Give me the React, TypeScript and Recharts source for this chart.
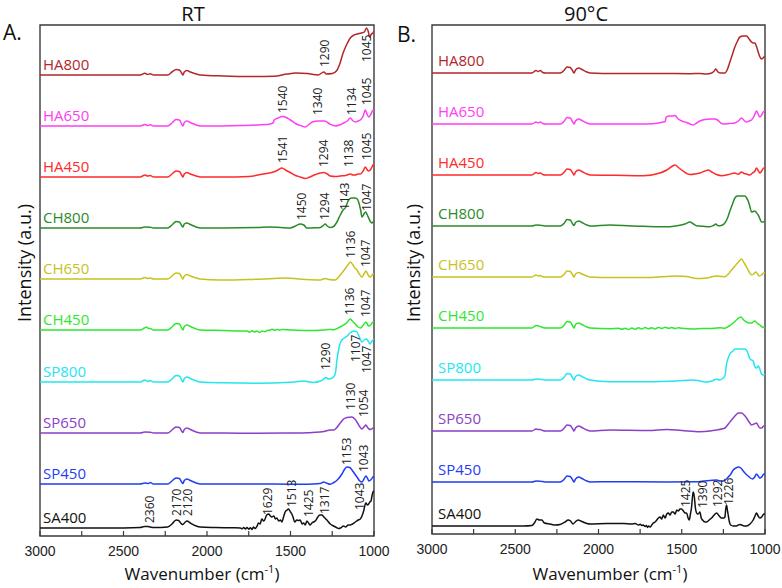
import { ComposedChart, Line, XAxis, YAxis, ReferenceArea, ReferenceLine, ReferenceDot } from 'recharts';

// [wavenumber, intensity above the spectrum's own baseline]
type Pt = [number, number];
// [wavenumber, stacked height of the label foot, text]
type Peak = [number, number, string];

const sampleNames = ['HA800', 'HA650', 'HA450', 'CH800', 'CH650', 'CH450', 'SP800', 'SP650', 'SP450', 'SA400'];
const sampleColors = ['#b3262b', '#ff3df5', '#ff2a2a', '#2a8a2a', '#c8c21e', '#2ee82e', '#22e6f0', '#8c3fc8', '#1f3df5', '#111111'];
// vertical offset of each trace in the stack
const stackOffsets = [461, 410, 359, 308, 257, 206, 154, 103, 52, 8];

const xTicks = [3000, 2500, 2000, 1500, 1000];
const minorTicks = [3000, 2750, 2500, 2250, 2000, 1750, 1500, 1250, 1000];

// ---------- RT ----------
const rtHA800: Pt[] = [[3000,0],[2600,0],[2400,0],[2372,1.8],[2355,0.5],[2340,1.2],[2320,0],[2235,0],[2210,3],[2185,5.5],[2165,5],[2152,2],[2144,0],[2136,3],[2120,4.5],[2100,3],[2065,1],[2040,0],[1900,-1],[1750,-1.5],[1600,-1.2],[1520,1],[1470,2],[1400,1.5],[1335,0],[1300,3],[1285,1],[1250,1.5],[1225,4],[1205,11],[1185,22],[1165,30],[1142,37],[1120,40],[1100,41],[1075,42],[1058,43],[1045,47],[1035,44],[1026,38],[1015,41],[1006,42],[1000,44]];
const rtHA650: Pt[] = [[3000,0],[2600,0],[2400,0],[2372,1.5],[2355,0.5],[2340,1.2],[2320,0],[2235,0],[2210,3],[2185,6.5],[2165,6],[2152,2],[2144,0],[2136,3.5],[2120,5],[2100,3.5],[2065,1],[2040,0],[1800,0.5],[1640,1.5],[1605,3],[1597,6],[1575,8],[1545,9.5],[1520,8],[1500,6],[1465,2],[1432,0],[1412,-1],[1390,1.5],[1370,4],[1330,5],[1295,5],[1265,2],[1232,0],[1200,1.5],[1182,3],[1160,5],[1142,8],[1125,5],[1112,4],[1095,5],[1082,6],[1065,10],[1052,16],[1042,12],[1032,9],[1018,12],[1006,16],[1000,14]];
const rtHA450: Pt[] = [[3000,0],[2600,0],[2400,0],[2372,2],[2355,1],[2340,1.5],[2320,0],[2235,0],[2210,3],[2185,6],[2165,5.5],[2152,2],[2144,0],[2136,3],[2120,4.5],[2100,3],[2065,1],[2040,0],[1900,0],[1750,0.5],[1662,3],[1602,5],[1575,7],[1552,9],[1525,6.5],[1502,4.5],[1470,1.5],[1442,0],[1410,-1.5],[1392,-0.5],[1350,2.5],[1322,4],[1302,4.5],[1280,3],[1262,1],[1230,0.5],[1202,1],[1170,1.5],[1142,3],[1125,2],[1112,2],[1095,3],[1082,3],[1065,6],[1052,10],[1040,7],[1032,6],[1018,8],[1006,12],[1000,13]];
const rtCH800: Pt[] = [[3000,0],[2600,0],[2400,0],[2372,1],[2340,0.8],[2320,0],[2235,0],[2210,3],[2185,6.5],[2165,6],[2152,2.5],[2144,1],[2136,4],[2120,5],[2100,3.5],[2065,1],[2040,0],[1900,0],[1700,0.5],[1622,1],[1560,0.5],[1502,0],[1470,2],[1442,4],[1420,3],[1402,0],[1350,0.2],[1322,0.5],[1300,3],[1292,4],[1280,2],[1262,0.5],[1242,1.5],[1222,6],[1202,13],[1185,18],[1172,20],[1160,25],[1152,28],[1135,30],[1115,30],[1100,29],[1092,26],[1080,18],[1072,11],[1060,14],[1050,16],[1040,13],[1032,10],[1020,6],[1012,5],[1006,6],[1000,7]];
const rtCH650: Pt[] = [[3000,0],[2600,0],[2400,0],[2372,1.5],[2355,0.5],[2340,1],[2320,0],[2235,0],[2210,3],[2185,6],[2165,5.5],[2152,2],[2144,0],[2136,3],[2120,4.5],[2100,3],[2065,1],[2040,0],[1922,-1],[1750,-0.5],[1600,0.5],[1522,1],[1450,0],[1322,-1],[1292,0.5],[1270,-0.5],[1232,-1],[1212,2],[1192,6],[1170,11],[1152,15],[1142,17],[1130,15],[1115,11],[1102,9],[1088,5],[1072,2],[1060,5],[1048,8],[1038,5],[1026,2],[1015,3],[1006,5],[1000,5]];
const rtCH450: Pt[] = [[3000,0],[2600,0],[2400,0],[2375,2],[2362,3],[2350,1.5],[2340,1.5],[2320,0],[2235,0],[2210,3],[2185,6.5],[2165,6],[2152,2],[2144,0],[2136,3.5],[2120,5],[2100,3.5],[2065,1],[2040,0],[1900,-0.5],[1800,-1],[1760,-1],[1745,-2.2],[1730,-0.8],[1715,-2],[1700,-1],[1685,-2.4],[1670,-1],[1655,-1.8],[1640,-0.5],[1625,-0.2],[1610,0.8],[1595,-0.3],[1580,0.6],[1565,-0.2],[1550,0.4],[1500,0],[1400,-0.5],[1300,0],[1270,0.5],[1242,0.3],[1215,2],[1192,4],[1165,7],[1150,10],[1142,11],[1130,9],[1112,6],[1095,3],[1082,2],[1068,4],[1048,8],[1040,6],[1032,4],[1020,5],[1006,8],[1000,8]];
const rtSP800: Pt[] = [[3000,0],[2600,0],[2400,0],[2372,2],[2355,0.5],[2340,1.5],[2320,0],[2235,0],[2210,3],[2185,6.5],[2165,6],[2152,2],[2144,0],[2136,3.5],[2120,5],[2100,3.5],[2065,1],[2040,0],[1900,-0.8],[1700,-1.2],[1500,-0.3],[1422,1],[1362,-0.5],[1322,1],[1300,3],[1292,4.5],[1270,3],[1242,5],[1230,10],[1222,22],[1212,32],[1200,40],[1186,43],[1160,46],[1144,49],[1120,51],[1102,50],[1090,46],[1072,40],[1060,42],[1045,43],[1035,41],[1024,38],[1012,41],[1000,43]];
const rtSP650: Pt[] = [[3000,0],[2600,0],[2400,0],[2372,1],[2340,0.8],[2320,0],[2235,0],[2210,3],[2185,6],[2165,5.5],[2152,2],[2144,0.5],[2136,3.5],[2120,5],[2100,3.5],[2065,1],[2040,0],[1900,0],[1700,-0.3],[1500,0],[1400,0.3],[1322,1],[1300,1.5],[1262,3],[1240,3],[1225,5],[1202,10],[1182,14],[1162,15.5],[1132,16],[1115,14],[1102,11],[1088,7],[1072,4],[1060,6],[1048,8],[1040,6],[1030,4],[1020,3.5],[1006,5],[1000,6]];
const rtSP450: Pt[] = [[3000,0],[2600,0],[2400,0],[2372,1],[2350,0.5],[2340,1.5],[2320,0],[2235,0],[2210,3],[2185,6],[2165,5.5],[2152,2],[2144,0.5],[2136,3.5],[2120,5],[2100,3.5],[2065,1],[2040,0],[1900,0],[1600,0],[1400,-0.3],[1322,0.5],[1302,2],[1285,1],[1262,-0.3],[1240,1.5],[1220,4],[1192,10],[1175,15],[1162,17],[1145,16.5],[1132,14],[1115,10],[1102,7],[1085,3],[1072,2],[1060,5],[1048,8],[1040,6],[1030,3],[1020,4],[1006,7],[1000,8]];
const rtSA400: Pt[] = [[3000,0],[2600,0],[2400,0.5],[2375,1.5],[2355,1.5],[2340,1],[2320,0.5],[2235,1],[2210,4],[2185,8],[2170,7.5],[2152,4],[2145,3.5],[2130,6],[2120,7],[2100,5],[2065,2],[2040,1],[1950,0.5],[1850,0.2],[1800,0],[1790,-0.8],[1780,0.6],[1770,-1],[1760,0.4],[1750,-1.2],[1740,0.3],[1730,-1.5],[1722,1],[1712,-0.5],[1700,2],[1692,5],[1682,4],[1672,9],[1660,7],[1642,13],[1630,14],[1620,12],[1612,11],[1600,12],[1590,9],[1582,10],[1570,7],[1560,8],[1552,6],[1540,12],[1532,16],[1520,18],[1512,19],[1500,16],[1492,14],[1485,11],[1475,6],[1462,8],[1452,7.5],[1442,8],[1430,4],[1422,5],[1412,3],[1402,7],[1392,5],[1382,3],[1372,5],[1362,6],[1352,7],[1340,10],[1325,13],[1312,13],[1300,11],[1282,8],[1262,4],[1242,2],[1225,0.5],[1212,-0.5],[1200,0],[1182,2],[1170,1],[1155,3],[1142,3],[1130,4],[1112,6],[1095,8],[1082,9],[1072,12],[1062,17],[1052,24],[1048,25],[1040,23],[1032,24],[1025,26],[1018,27],[1012,32],[1006,36],[1000,37]];

// ---------- 90°C ----------
const hotHA800: Pt[] = [[3000,0],[2600,0],[2400,0],[2375,2.5],[2362,1.5],[2350,2.5],[2335,0.5],[2320,0],[2230,0],[2205,3],[2189,6],[2170,5.5],[2155,2],[2147,0],[2138,3],[2118,5],[2100,3.5],[2070,1],[2051,0],[1900,-0.5],[1631,-0.5],[1450,-0.7],[1391,-0.5],[1351,-1],[1320,0],[1305,2],[1295,4],[1285,1.5],[1270,0],[1241,0],[1225,4],[1211,11],[1195,19],[1181,26],[1165,32],[1151,36],[1131,37],[1111,37],[1095,34],[1081,31],[1070,30],[1061,30],[1050,26],[1041,21],[1030,16],[1021,14],[1012,15],[1007,16],[1000,16]];
const hotHA650: Pt[] = [[3000,0],[2600,0],[2400,0],[2375,2],[2362,1],[2350,2],[2335,0.5],[2320,0],[2230,0],[2205,3],[2189,6.5],[2170,6],[2155,2],[2147,0],[2138,3],[2118,5],[2100,3.5],[2070,1],[2051,0],[1900,0],[1711,0],[1640,1],[1611,2],[1600,2.5],[1593,7],[1575,8],[1555,8],[1541,8.5],[1521,5],[1500,3],[1471,1.5],[1450,0],[1431,-1],[1410,1],[1391,3],[1360,4.5],[1331,5],[1300,5],[1285,4],[1265,1],[1251,0],[1215,0.5],[1181,1],[1160,3],[1141,6],[1125,3.5],[1111,2],[1095,3],[1081,4],[1065,8],[1051,13],[1041,10],[1031,7],[1020,9],[1011,12],[1000,13]];
const hotHA450: Pt[] = [[3000,0],[2600,0],[2400,0],[2375,2.5],[2362,1.5],[2350,2],[2335,0.5],[2320,0],[2230,0],[2205,3],[2189,6],[2170,5.5],[2155,2],[2147,0],[2138,3],[2118,5],[2100,3.5],[2070,1],[2051,0],[1900,-0.3],[1731,-0.7],[1631,2],[1590,5],[1560,8.5],[1541,10],[1520,7.5],[1501,5],[1470,1.5],[1451,0.5],[1420,1],[1391,2],[1360,4],[1341,5],[1320,3],[1291,0.5],[1261,-0.7],[1220,0.5],[1181,2],[1161,0.8],[1141,3],[1125,1.5],[1111,1],[1091,0],[1075,2],[1060,4],[1051,7],[1041,4.5],[1031,2],[1020,4],[1007,7],[1000,7]];
const hotCH800: Pt[] = [[3000,0],[2600,0],[2400,0],[2375,1],[2350,0.8],[2320,0],[2230,0],[2205,3],[2189,6.5],[2170,6],[2155,2],[2147,0.5],[2138,3.5],[2118,5],[2100,3.5],[2070,1],[2051,0],[1931,1],[1800,0],[1731,-0.3],[1620,-0.7],[1571,-0.7],[1511,0.7],[1480,2],[1451,4],[1430,2],[1411,0.3],[1370,-0.3],[1331,-0.7],[1310,0.5],[1295,2],[1285,0.5],[1271,0.3],[1255,1],[1241,3],[1225,8],[1211,15],[1195,22],[1181,28],[1165,30],[1151,30],[1135,30],[1121,30],[1110,28],[1101,25],[1090,19],[1081,14],[1070,14.5],[1061,15],[1050,13],[1041,11],[1030,7],[1021,4],[1012,4],[1000,5]];
const hotCH650: Pt[] = [[3000,0],[2600,0],[2400,0],[2375,2],[2362,1],[2350,1.5],[2335,0.3],[2320,0],[2230,0],[2205,3],[2189,6],[2170,5.5],[2155,2],[2147,0],[2138,3],[2118,4.5],[2100,3],[2070,1],[2051,0],[1931,-0.5],[1700,-0.5],[1531,1],[1470,0.5],[1411,-1.5],[1350,-1],[1291,1],[1260,0.5],[1241,0.3],[1220,3],[1201,7],[1180,11],[1160,15],[1141,18],[1125,14],[1111,10],[1095,5],[1081,2],[1068,3],[1055,5],[1045,3],[1035,1],[1020,2],[1007,4],[1000,4]];
const hotCH450: Pt[] = [[3000,0],[2600,0],[2400,0],[2375,2.5],[2362,2],[2350,1.5],[2335,0.5],[2320,0],[2230,0],[2205,3],[2189,6.5],[2170,6],[2155,2],[2147,0],[2138,3.5],[2118,5],[2100,3.5],[2070,1],[2051,0],[1931,-0.8],[1880,-0.3],[1860,-1.3],[1840,-0.2],[1820,-1.5],[1800,0],[1780,-1.2],[1760,0.2],[1740,-1],[1720,0.5],[1700,-0.8],[1680,0.3],[1660,-1],[1640,0.6],[1620,-0.5],[1600,0.8],[1580,-0.3],[1560,0.4],[1540,-0.5],[1520,0.2],[1500,-0.3],[1431,-0.9],[1380,-0.5],[1340,-0.6],[1271,0.3],[1241,-0.3],[1215,2],[1191,5],[1165,9],[1145,11],[1128,8],[1111,6],[1095,5],[1081,5],[1061,7],[1045,4.5],[1031,3],[1015,1],[1000,0]];
const hotSP800: Pt[] = [[3000,0],[2600,0],[2400,0],[2375,1],[2350,0.8],[2320,0],[2230,0],[2205,3],[2189,6.5],[2170,6],[2155,2],[2147,0],[2138,3.5],[2118,5],[2100,3.5],[2070,1],[2051,0],[1931,-1.7],[1700,-1.8],[1531,-1],[1431,0],[1390,-1],[1351,-2],[1320,-1],[1300,0.5],[1291,1],[1275,0],[1255,1.5],[1241,4],[1231,16],[1221,22],[1211,26],[1192,29],[1180,31],[1160,31],[1140,31],[1120,31],[1105,28],[1090,21],[1071,19],[1060,13],[1051,12],[1040,14],[1031,11],[1021,6],[1011,5],[1000,6]];
const hotSP650: Pt[] = [[3000,0],[2600,0],[2400,0],[2375,2],[2362,1.5],[2350,1.5],[2335,0.5],[2320,0],[2230,0],[2205,3],[2189,6],[2170,5.5],[2155,2],[2147,0],[2138,3],[2118,5],[2100,3.5],[2070,1],[2051,0],[1931,1],[1700,0.5],[1591,1.5],[1500,0.5],[1391,-0.7],[1330,0],[1291,1],[1260,2],[1241,3],[1220,7],[1201,11],[1191,13],[1175,16],[1161,18],[1141,18],[1125,16],[1111,13],[1095,9],[1081,6],[1066,7],[1051,8],[1040,5],[1031,3],[1020,3],[1007,5],[1000,5]];
const hotSP450: Pt[] = [[3000,0],[2600,0],[2400,0],[2375,1],[2350,0.8],[2320,0],[2230,0],[2205,3],[2189,6],[2170,5.5],[2155,2],[2147,0],[2138,3],[2118,5],[2100,3.5],[2070,1],[2051,0],[1931,0.3],[1600,0],[1400,0.3],[1291,2],[1270,1],[1251,1],[1221,5],[1205,8],[1191,12],[1175,14],[1161,15],[1145,14],[1131,11],[1115,8],[1101,6],[1088,4],[1075,3],[1062,5],[1051,8],[1041,6],[1031,4],[1020,5],[1007,8],[1000,8]];
const hotSA400: Pt[] = [[3000,0],[2700,0],[2450,0],[2400,0.5],[2385,3],[2370,7],[2355,6],[2340,6],[2325,3],[2290,2],[2260,1],[2230,1.5],[2200,4],[2183,6],[2168,5],[2153,2],[2140,4],[2123,6],[2100,4.5],[2070,2.5],[2051,2],[1950,2.5],[1850,2.5],[1800,2],[1780,2.5],[1760,1],[1750,1.8],[1740,0.5],[1731,1],[1720,-0.5],[1712,0.5],[1705,-1.5],[1698,0],[1690,-1],[1680,1],[1671,3],[1660,4],[1650,6],[1640,8],[1631,9],[1620,7],[1611,11],[1600,8],[1590,12],[1581,13],[1570,11],[1560,14],[1551,14],[1540,12],[1530,16],[1521,15],[1510,17],[1501,17],[1490,15],[1480,13],[1471,13],[1462,8],[1455,6],[1448,12],[1441,19],[1435,30],[1431,34],[1425,30],[1418,18],[1411,13],[1405,12],[1401,12],[1391,14],[1383,8],[1375,6],[1360,4],[1351,4],[1335,6],[1321,8],[1305,11],[1291,13],[1275,10],[1261,8],[1248,8],[1241,9],[1235,18],[1231,21],[1226,16],[1221,11],[1215,5],[1207,1],[1190,0],[1171,0],[1160,1],[1150,1.5],[1141,1],[1125,0],[1111,0],[1090,2],[1071,6],[1060,10],[1051,13],[1041,10],[1031,8],[1020,9],[1012,11],[1007,12],[1000,12]];

const rtSpectra = [rtHA800, rtHA650, rtHA450, rtCH800, rtCH650, rtCH450, rtSP800, rtSP650, rtSP450, rtSA400];
const hotSpectra = [hotHA800, hotHA650, hotHA450, hotCH800, hotCH650, hotCH450, hotSP800, hotSP650, hotSP450, hotSA400];

const rtPeaks: Peak[] = [
  [1295, 469, '1290'], [1042, 474, '1045'],
  [1545, 423, '1540'], [1341, 421, '1340'], [1132, 421, '1134'], [1042, 431, '1045'],
  [1545, 373, '1541'], [1303, 369, '1294'], [1150, 369, '1138'], [1046, 376, '1045'],
  [1437, 316, '1450'], [1299, 316, '1294'], [1174, 326, '1143'], [1045, 325, '1047'],
  [1138, 278, '1136'], [1048, 269, '1047'],
  [1144, 221, '1136'], [1048, 219, '1047'],
  [1293, 166, '1290'], [1108, 174, '1107'], [1042, 163, '1047'],
  [1138, 126, '1130'], [1060, 119, '1054'],
  [1162, 71, '1153'], [1060, 64, '1043'],
  [2347, 13, '2360'], [2180, 20, '2170'], [2114, 20, '2120'], [1635, 21, '1629'],
  [1497, 29, '1513'], [1395, 19, '1425'], [1299, 22, '1317'], [1084, 26, '1043'],
];
const hotPeaks: Peak[] = [
  [1480, 27, '1425'], [1378, 26, '1390'], [1288, 27, '1292'], [1222, 29, '1226'],
];

const sans = '"Open Sans", "Noto Sans", sans-serif';

interface PanelProps {
  spectra: Pt[][];
  peaks: Peak[];
  yMax: number;
  width: number;
  margin: { top: number; right: number; bottom: number; left: number };
  labelWn: number;
  labelLift: number;
}

function Panel({ spectra, peaks, yMax, width, margin, labelWn, labelLift }: PanelProps) {
  return (
    <ComposedChart width={width} height={588} margin={margin}>
      <XAxis
        type="number"
        dataKey="wn"
        domain={[1000, 3000]}
        reversed
        allowDataOverflow
        ticks={xTicks}
        interval={0}
        axisLine={false}
        tickLine={false}
        tickSize={7}
        tickMargin={3}
        height={25}
        tick={{ fontSize: 14, fill: '#222', fontFamily: '"Liberation Sans", Arial, sans-serif' }}
      />
      <YAxis type="number" dataKey="v" domain={[0, yMax]} allowDataOverflow hide />
      <ReferenceArea x1={3000} x2={1000} y1={0} y2={yMax} fill="none" stroke="#3a3a3a" strokeWidth={1.4} ifOverflow="extendDomain" />
      {minorTicks.map((t) => (
        <ReferenceLine key={'tk' + t} segment={[{ x: t, y: 0 }, { x: t, y: 5 }]} stroke="#3a3a3a" strokeWidth={1.2} />
      ))}
      {spectra.map((pts, i) => (
        <Line
          key={sampleNames[i]}
          name={sampleNames[i]}
          data={pts.map(([wn, v]) => ({ wn, v: v + stackOffsets[i] }))}
          dataKey="v"
          type="monotone"
          stroke={sampleColors[i]}
          strokeWidth={1.5}
          dot={false}
          activeDot={false}
          isAnimationActive={false}
        />
      ))}
      {sampleNames.map((name, i) => (
        <ReferenceDot
          key={'lbl' + name}
          x={labelWn}
          y={stackOffsets[i] + labelLift}
          r={0}
          shape={(p: any) => (
            <text x={p.cx} y={p.cy} fill={sampleColors[i]} fontSize={15} fontFamily={sans}>
              {name}
            </text>
          )}
        />
      ))}
      {peaks.map(([wn, h, txt], i) => (
        <ReferenceDot
          key={'pk' + i}
          x={wn}
          y={h}
          r={0}
          shape={(p: any) => (
            <text
              x={p.cx}
              y={p.cy}
              transform={`rotate(-90 ${p.cx} ${p.cy})`}
              dominantBaseline="central"
              fill="#222"
              fontSize={12}
              fontFamily={sans}
            >
              {txt}
            </text>
          )}
        />
      ))}
    </ComposedChart>
  );
}

const abs = (l: number, t: number, extra: React.CSSProperties = {}): React.CSSProperties => ({
  position: 'absolute',
  left: l,
  top: t,
  fontFamily: sans,
  color: '#111',
  whiteSpace: 'nowrap',
  ...extra,
});

export default function App() {
  return (
    <div style={{ position: 'absolute', left: 0, top: 0, width: 782, height: 588, background: '#fff', overflow: 'hidden' }}>
      <div style={{ position: 'absolute', left: 0, top: 0 }}>
        <Panel
          spectra={rtSpectra}
          peaks={rtPeaks}
          yMax={511}
          width={390}
          margin={{ top: 25, right: 16, bottom: 27, left: 40 }}
          labelWn={2982}
          labelLift={5}
        />
      </div>
      <div style={{ position: 'absolute', left: 390, top: 0 }}>
        <Panel
          spectra={hotSpectra}
          peaks={hotPeaks}
          yMax={509}
          width={392}
          margin={{ top: 25, right: 17, bottom: 29, left: 42 }}
          labelWn={2964}
          labelLift={7}
        />
      </div>

      <div style={abs(143, 0, { width: 100, textAlign: 'center', fontSize: 20, lineHeight: '28px' })}>RT</div>
      <div style={abs(536, 0, { width: 100, textAlign: 'center', fontSize: 20, lineHeight: '28px' })}>90°C</div>
      <div style={abs(3, 19, { fontSize: 21, lineHeight: '26px' })}>A.</div>
      <div style={abs(397, 21, { fontSize: 21, lineHeight: '26px' })}>B.</div>

      <div style={abs(24 - 100, 263 - 12, { width: 200, height: 24, textAlign: 'center', fontSize: 18, lineHeight: '24px', transform: 'rotate(-90deg)' })}>
        Intensity (a.u.)
      </div>
      <div style={abs(413 - 100, 263 - 12, { width: 200, height: 24, textAlign: 'center', fontSize: 18, lineHeight: '24px', transform: 'rotate(-90deg)' })}>
        Intensity (a.u.)
      </div>

      <div style={abs(202 - 120, 562, { width: 240, textAlign: 'center', fontSize: 17, lineHeight: '24px' })}>
        Wavenumber (cm<sup style={{ fontSize: 11, verticalAlign: 'super', lineHeight: 0 }}>-1</sup>)
      </div>
      <div style={abs(610 - 120, 562, { width: 240, textAlign: 'center', fontSize: 17, lineHeight: '24px' })}>
        Wavenumber (cm<sup style={{ fontSize: 11, verticalAlign: 'super', lineHeight: 0 }}>-1</sup>)
      </div>
    </div>
  );
}
